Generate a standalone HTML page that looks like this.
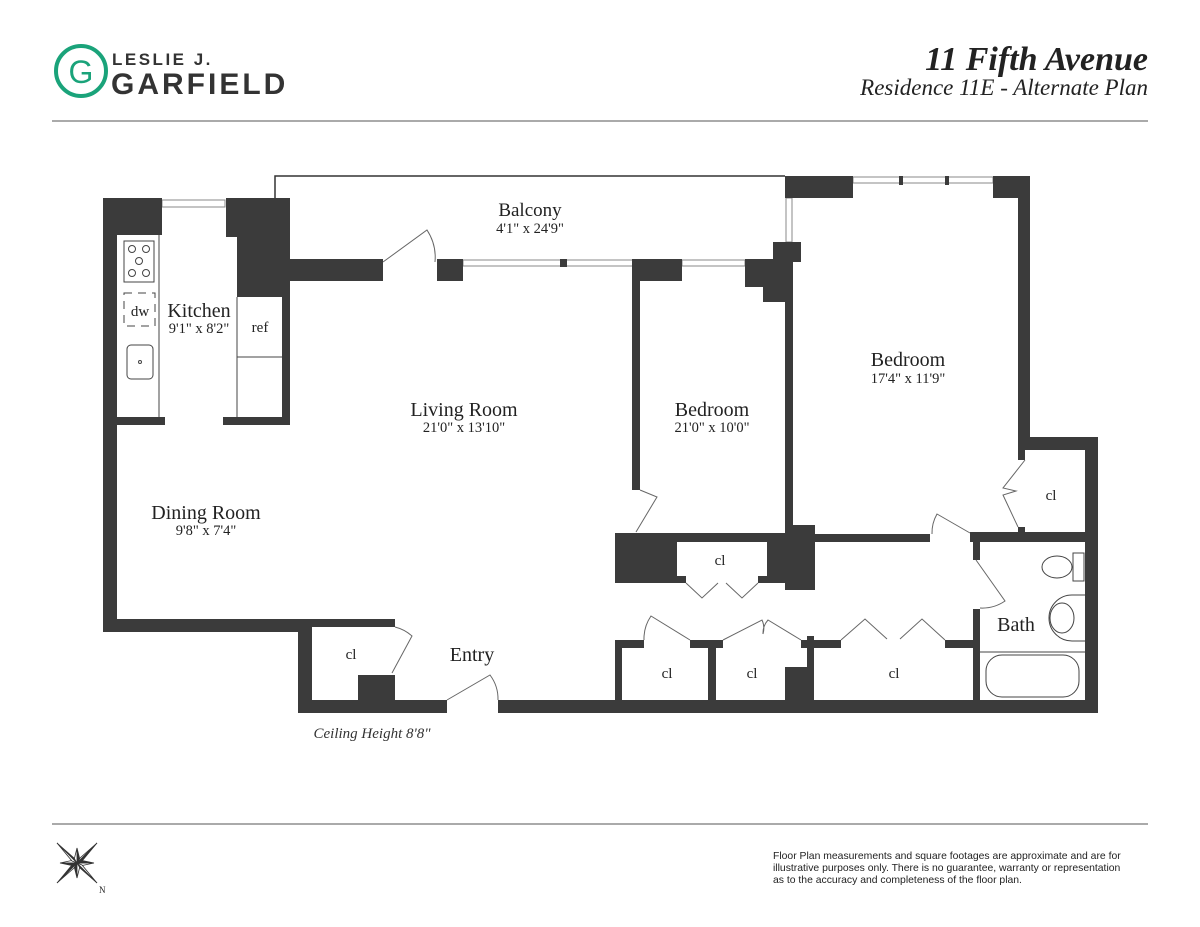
<!DOCTYPE html>
<html><head><meta charset="utf-8"><style>
body{margin:0;width:1200px;height:927px;background:#fff;overflow:hidden}
svg{display:block}
.s{font-family:"Liberation Serif",serif;fill:#222}
</style></head><body>
<svg width="1200" height="927" viewBox="0 0 1200 927" xmlns="http://www.w3.org/2000/svg">
<!-- header -->
<circle cx="81" cy="71" r="25" fill="none" stroke="#1aa37a" stroke-width="4"/>
<text x="81" y="83" text-anchor="middle" font-family="Liberation Sans,sans-serif" font-size="32" fill="#1aa37a">G</text>
<text x="112" y="65" font-family="Liberation Sans,sans-serif" font-weight="bold" font-size="17" letter-spacing="2.5" fill="#333">LESLIE J.</text>
<text x="111" y="94" font-family="Liberation Sans,sans-serif" font-weight="bold" font-size="30" letter-spacing="3" fill="#333">GARFIELD</text>
<text x="1148" y="70" text-anchor="end" class="s" font-size="34" font-style="italic" font-weight="bold">11 Fifth Avenue</text>
<text x="1148" y="95" text-anchor="end" class="s" font-size="23" font-style="italic" fill="#444">Residence 11E - Alternate Plan</text>
<line x1="52" y1="121" x2="1148" y2="121" stroke="#777" stroke-width="1.2"/>
<line x1="52" y1="824" x2="1148" y2="824" stroke="#777" stroke-width="1.2"/>

<!-- balcony outline -->
<polyline points="275,198 275,176 785,176" fill="none" stroke="#333" stroke-width="1.5"/>
<!-- windows -->
<g fill="none" stroke="#888" stroke-width="1">
<rect x="162" y="200" width="63" height="7"/>
<rect x="463" y="260" width="170" height="6"/>
<rect x="682" y="260" width="63" height="6"/>
<rect x="786" y="198" width="6" height="44"/>
<rect x="853" y="177" width="140" height="6"/>
</g>
<g fill="#3b3b3b">
<rect x="103" y="198" width="59" height="37"/>
<rect x="103" y="198" width="14" height="434"/>
<rect x="226" y="198" width="64" height="39"/>
<rect x="237" y="198" width="53" height="99"/>
<rect x="282" y="198" width="8" height="227"/>
<rect x="223" y="417" width="67" height="8"/>
<rect x="117" y="417" width="48" height="8"/>
<rect x="290" y="259" width="93" height="22"/>
<rect x="437" y="259" width="26" height="22"/>
<rect x="560" y="259" width="7" height="8"/>
<rect x="632" y="259" width="50" height="22"/>
<rect x="632" y="259" width="8" height="231"/>
<rect x="745" y="259" width="40" height="28"/>
<rect x="763" y="259" width="22" height="43"/>
<rect x="773" y="242" width="28" height="20"/>
<rect x="785" y="259" width="8" height="330"/>
<rect x="785" y="525" width="30" height="65"/>
<rect x="785" y="176" width="68" height="22"/>
<rect x="899" y="176" width="4" height="9"/>
<rect x="945" y="176" width="4" height="9"/>
<rect x="993" y="176" width="37" height="22"/>
<rect x="1018" y="176" width="12" height="262"/>
<rect x="1018" y="437" width="80" height="13"/>
<rect x="1085" y="437" width="13" height="276"/>
<rect x="1018" y="437" width="7" height="23"/>
<rect x="970" y="532" width="128" height="10"/>
<rect x="1018" y="527" width="7" height="8"/>
<rect x="973" y="532" width="7" height="28"/>
<rect x="973" y="609" width="7" height="95"/>
<rect x="815" y="534" width="115" height="8"/>
<rect x="615" y="533" width="170" height="7"/>
<rect x="615" y="535" width="200" height="48"/>
<rect x="615" y="640" width="29" height="8"/>
<rect x="615" y="640" width="7" height="65"/>
<rect x="690" y="640" width="33" height="8"/>
<rect x="708" y="640" width="8" height="65"/>
<rect x="801" y="640" width="40" height="8"/>
<rect x="807" y="636" width="7" height="70"/>
<rect x="785" y="667" width="29" height="38"/>
<rect x="945" y="640" width="35" height="8"/>
<rect x="498" y="700" width="600" height="13"/>
<rect x="103" y="619" width="209" height="13"/>
<rect x="298" y="619" width="14" height="94"/>
<rect x="298" y="619" width="97" height="8"/>
<rect x="358" y="675" width="37" height="38"/>
<rect x="298" y="700" width="149" height="13"/>
</g>
<g fill="#fff">
<rect x="677" y="542" width="90" height="34"/>
<rect x="686" y="575" width="72" height="9"/>
</g>
<g fill="none" stroke="#444" stroke-width="1">
<line x1="159" y1="235" x2="159" y2="417"/>
<line x1="237" y1="297" x2="237" y2="417"/>
<line x1="237" y1="357" x2="282" y2="357"/>
<rect x="124" y="241" width="30" height="41"/>
<circle cx="132" cy="249" r="3.5"/><circle cx="146" cy="249" r="3.5"/><circle cx="139" cy="261" r="3.5"/><circle cx="132" cy="273" r="3.5"/><circle cx="146" cy="273" r="3.5"/>
<rect x="124" y="293" width="31" height="33" stroke-dasharray="8,6"/>
<rect x="127" y="345" width="26" height="34" rx="4"/>
<circle cx="140" cy="362" r="1.5"/>
<ellipse cx="1057" cy="567" rx="15" ry="11"/>
<rect x="1073" y="553" width="11" height="28"/>
<path d="M1085 595 H1072 A22 22 0 0 0 1072 641 H1085"/>
<ellipse cx="1062" cy="618" rx="12" ry="15"/>
<line x1="980" y1="652" x2="1085" y2="652"/>
<rect x="986" y="655" width="93" height="42" rx="16"/>
</g>
<g fill="none" stroke="#666" stroke-width="1">
<path d="M383 262 L427 230 A50 50 0 0 1 435 262"/>
<path d="M640 490 L657 497 L636 532"/>
<path d="M1025 460 L1003 488 L1016 491 L1003 495 L1018 527"/>
<path d="M932 534 A38 38 0 0 1 937 514 L970 533"/>
<path d="M976 560 L1005 601 A40 40 0 0 1 980 608"/>
<path d="M686 583 L702 598 L718 583 M726 583 L742 598 L758 583"/>
<path d="M644 640 A40 40 0 0 1 651 616 L690 640"/>
<path d="M723 640 L762 620 A20 20 0 0 1 763 634 M801 640 L768 620 A20 20 0 0 0 763 634"/>
<path d="M841 640 L865 619 L887 639 M900 639 L922 619 L945 640"/>
<path d="M395 627 A40 40 0 0 1 412 636 L392 673"/>
<path d="M447 700 L490 675 A40 40 0 0 1 498 700"/>
</g>
<g class="s" text-anchor="middle">
<text x="530" y="216" font-size="19">Balcony</text><text x="530" y="233" font-size="14.5">4'1" x 24'9"</text>
<text x="199" y="317" font-size="20">Kitchen</text><text x="199" y="333" font-size="14.5">9'1" x 8'2"</text>
<text x="140" y="316" font-size="15">dw</text>
<text x="260" y="332" font-size="15">ref</text>
<text x="464" y="416" font-size="20">Living Room</text><text x="464" y="432" font-size="14.5">21'0" x 13'10"</text>
<text x="712" y="416" font-size="20">Bedroom</text><text x="712" y="432" font-size="14.5">21'0" x 10'0"</text>
<text x="908" y="366" font-size="20">Bedroom</text><text x="908" y="383" font-size="14.5">17'4" x 11'9"</text>
<text x="206" y="519" font-size="20">Dining Room</text><text x="206" y="535" font-size="14.5">9'8" x 7'4"</text>
<text x="472" y="661" font-size="20">Entry</text>
<text x="1016" y="631" font-size="20">Bath</text>
<g font-size="15"><text x="351" y="659">cl</text><text x="720" y="565">cl</text><text x="1051" y="500">cl</text><text x="667" y="678">cl</text><text x="752" y="678">cl</text><text x="894" y="678">cl</text></g>
<text x="372" y="738" font-size="15" font-style="italic" fill="#333">Ceiling Height 8'8"</text>
</g>
<g fill="#333" stroke="#333" stroke-width="0.8">
<polygon points="77,848 80,860 77,863"/><polygon points="77,848 74,860 77,863" fill="#fff"/>
<polygon points="77,878 74,866 77,863"/><polygon points="77,878 80,866 77,863" fill="#fff"/>
<polygon points="60,863 74,860 77,863" fill="#fff"/><polygon points="60,863 74,866 77,863"/>
<polygon points="94,863 80,866 77,863" fill="#fff"/><polygon points="94,863 80,860 77,863"/>
<polygon points="57,843 74,858 77,863"/><polygon points="57,843 72,861 77,863" fill="#fff"/>
<polygon points="97,883 80,868 77,863"/><polygon points="97,883 82,865 77,863" fill="#fff"/>
<polygon points="97,843 80,858 77,863" fill="#fff"/><polygon points="97,843 82,861 77,863"/>
<polygon points="57,883 74,868 77,863" fill="#fff"/><polygon points="57,883 72,865 77,863"/>
</g>
<text x="99" y="893" class="s" font-size="9">N</text>
<g font-family="Liberation Sans,sans-serif" font-size="10.4" fill="#222">
<text x="773" y="859">Floor Plan measurements and square footages are approximate and are for</text>
<text x="773" y="871">illustrative purposes only. There is no guarantee, warranty or representation</text>
<text x="773" y="883">as to the accuracy and completeness of the floor plan.</text>
</g>
</svg>
</body></html>
